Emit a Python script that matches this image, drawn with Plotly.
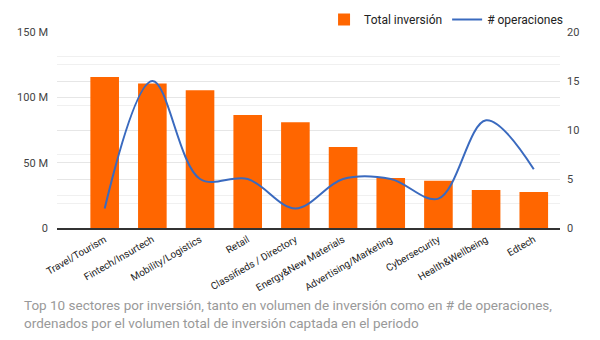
import plotly.graph_objects as go

categories = ["Travel/Tourism", "Fintech/Insurtech", "Mobility/Logistics", "Retail",
              "Classifieds / Directory", "Energy&New Materials", "Advertising/Marketing",
              "Cybersecurity", "Health&Wellbeing", "Edtech"]
inversion_m = [115.5, 110.5, 105.5, 86.5, 81, 62, 38.3, 36.2, 29, 27.5]
operaciones = [2, 15, 5, 5, 2, 5, 5, 3, 11, 6]
left_tickvals = [0, 50, 100, 150]
left_ticktext = ["0", "50 M", "100 M", "150 M"]
right_tickvals = [0, 5, 10, 15, 20]
caption = ("Top 10 sectores por inversión, tanto en volumen de inversión como en # de operaciones,<br>"
           "ordenados por el volumen total de inversión captada en el periodo")

fig = go.Figure()
fig.add_trace(go.Bar(x=categories, y=inversion_m, name="Total inversión",
                     marker=dict(color="#ff6600", line=dict(width=0)), width=0.6))
fig.add_trace(go.Scatter(x=categories, y=operaciones, name="# operaciones", yaxis="y2",
                         mode="lines", line=dict(color="#3a6abf", width=2, shape="spline", smoothing=1.0)))

fig.update_layout(
    width=600, height=340,
    margin=dict(l=57, r=40, t=32, b=112, autoexpand=False),
    paper_bgcolor="white", plot_bgcolor="white",
    font=dict(family="Roboto", color="#222222"),
    showlegend=True,
    legend=dict(orientation="h", x=1.016, xanchor="right", yref="container", y=1 - 5/340, yanchor="top",
                font=dict(size=12, color="#222222"), bgcolor="rgba(0,0,0,0)",
                traceorder="normal", itemwidth=30),
    xaxis=dict(range=[-1.0, 9.55], tickangle=-30, tickfont=dict(size=10, color="#222222"),
               showline=True, linecolor="#333333", linewidth=2, showgrid=False, ticks=""),
    yaxis=dict(range=[0, 150], tickvals=left_tickvals, ticktext=left_ticktext,
               tickfont=dict(size=11, color="#444444"), showgrid=True, gridcolor="#e6e6e6",
               minor=dict(dtick=25, showgrid=True, gridcolor="#f0f0f0"),
               zeroline=False, ticklabelstandoff=8),
    yaxis2=dict(range=[0, 20], tickvals=right_tickvals, overlaying="y", side="right",
                tickfont=dict(size=11, color="#444444"), showgrid=True, gridcolor="#e6e6e6",
                minor=dict(dtick=2.5, showgrid=True, gridcolor="#f0f0f0"),
                zeroline=False, ticklabelstandoff=6),
    annotations=[dict(text=caption, xref="paper", yref="paper", x=-57/503 + 22/503, xanchor="left",
                      y=-0.34, yanchor="top", showarrow=False, align="left",
                      font=dict(size=13.5, color="#999999"))],
)

fig.write_html("out.html")
